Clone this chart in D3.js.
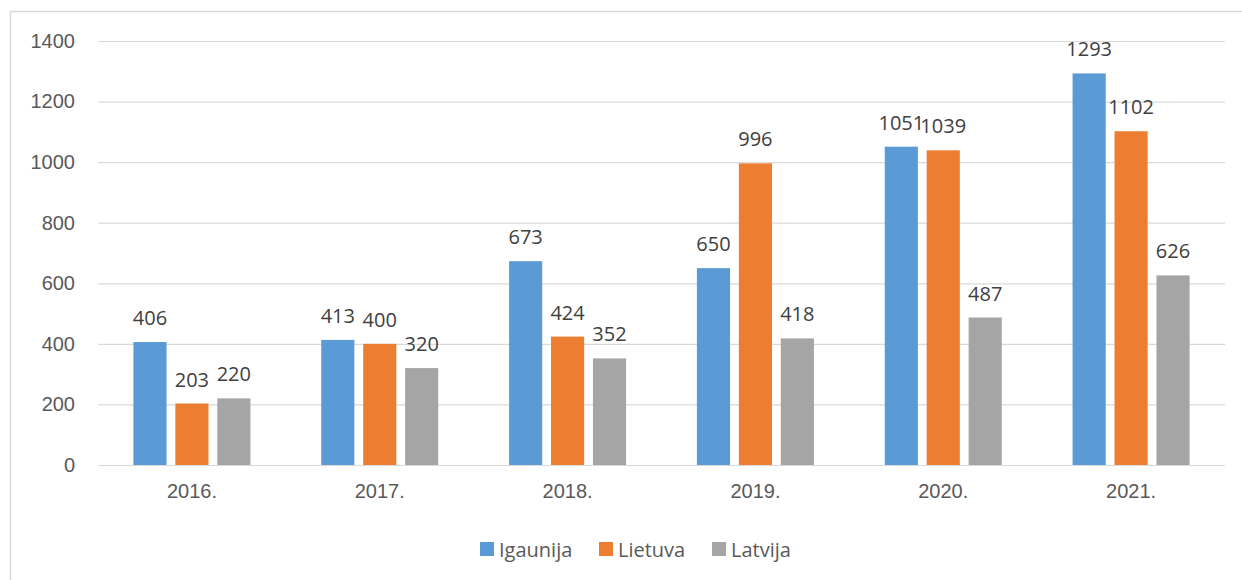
<!DOCTYPE html>
<html>
<head>
<meta charset="utf-8">
<script src="https://cdn.jsdelivr.net/npm/d3@7"></script>
<style>
  body { margin: 0; background: #fff; }
  svg { display: block; font-family: "Open Sans", sans-serif; }
</style>
</head>
<body>
<div class="chart-wrapper"></div>
<script>
var years = ["2016.", "2017.", "2018.", "2019.", "2020.", "2021."];
var seriesNames = ["Igaunija", "Lietuva", "Latvija"];
var igaunija = [406, 413, 673, 650, 1051, 1293];
var lietuva = [203, 400, 424, 996, 1039, 1102];
var latvija = [220, 320, 352, 418, 487, 626];
var yTicks = [0, 200, 400, 600, 800, 1000, 1200, 1400];
var colors = ["#5b9bd5", "#ed7d31", "#a5a5a5"];

var seriesValues = [igaunija, lietuva, latvija];
var data = years.map(function(y, i){
  return { year: y, values: seriesNames.map(function(s, j){ return { name: s, value: seriesValues[j][i], color: colors[j] }; }) };
});

var W = 1242, H = 580;
var margin = { top: 41, left: 98, right: 17, bottom: 115 };
var width = W - margin.left - margin.right,
    height = H - margin.top - margin.bottom;

var svg = d3.select('.chart-wrapper').append("svg")
  .attr("width", W)
  .attr("height", H);

// chart frame (only left and top edges are visible)
svg.append("path")
  .attr("d", "M10.5," + H + "V11.5H" + W)
  .attr("fill", "none")
  .attr("stroke", "#d9d9d9")
  .attr("stroke-width", 1.5);

var g = svg.append("g")
  .attr("transform", "translate(" + margin.left + "," + margin.top + ")");

var y = d3.scaleLinear()
  .domain([0, 1400])
  .range([height, 0]);

var x0 = d3.scaleBand()
  .domain(years)
  .range([0, width])
  .paddingInner(0.377)
  .paddingOuter(0.1885);

var x1 = d3.scaleBand()
  .domain(seriesNames)
  .range([0, x0.bandwidth()])
  .paddingInner(0.21)
  .paddingOuter(0);

// gridlines + y labels
var yAxis = g.append("g")
  .attr("class", "axis axis--y")
  .call(d3.axisLeft(y).tickValues(yTicks).tickSize(-width).tickPadding(23).tickFormat(d3.format("d")));
yAxis.select(".domain").remove();
yAxis.selectAll("line").attr("stroke", "#d9d9d9").attr("stroke-width", 1.2);
yAxis.selectAll("text")
  .attr("fill", "#595959")
  .style("font-size", "20px");

// x axis labels
var xAxis = g.append("g")
  .attr("class", "axis axis--x")
  .attr("transform", "translate(0," + height + ")")
  .call(d3.axisBottom(x0).tickSize(0).tickPadding(19));
xAxis.select(".domain").remove();
xAxis.selectAll("text")
  .attr("fill", "#595959")
  .style("font-size", "20px");

var groups = g.selectAll(".group")
  .data(data)
  .enter().append("g")
  .attr("class", "group")
  .attr("transform", function(d){ return "translate(" + x0(d.year) + ",0)"; });

groups.selectAll(".bar")
  .data(function(d){ return d.values; })
  .enter().append("rect")
  .attr("class", "bar")
  .attr("x", function(d){ return x1(d.name); })
  .attr("y", function(d){ return y(d.value); })
  .attr("width", x1.bandwidth())
  .attr("height", function(d){ return y(0) - y(d.value); })
  .attr("fill", function(d){ return d.color; });

groups.selectAll(".label")
  .data(function(d){ return d.values; })
  .enter().append("text")
  .attr("class", "label")
  .attr("x", function(d){ return x1(d.name) + x1.bandwidth() / 2; })
  .attr("y", function(d){ return y(d.value) - 17; })
  .attr("text-anchor", "middle")
  .attr("fill", "#404040")
  .style("font-size", "20px")
  .text(function(d){ return d.value; });

// legend
var legendX = [480, 599, 712];
var legend = svg.append("g").attr("class", "legend");
seriesNames.forEach(function(s, i){
  legend.append("rect")
    .attr("x", legendX[i])
    .attr("y", 542)
    .attr("width", 14)
    .attr("height", 14)
    .attr("fill", colors[i]);
  legend.append("text")
    .attr("x", legendX[i] + 19)
    .attr("y", 557)
    .attr("fill", "#595959")
    .style("font-size", "20px")
    .text(s);
});
</script>
</body>
</html>
